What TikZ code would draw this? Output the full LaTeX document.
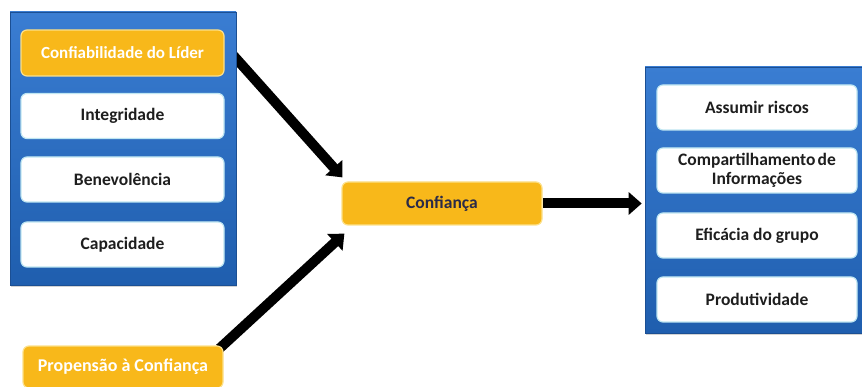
\documentclass[tikz,border=0pt]{standalone}
\usepackage{fontspec}
\setmainfont{Carlito}
\usetikzlibrary{arrows.meta,backgrounds,calc,shadows}
\definecolor{blueTop}{HTML}{3A7DD2}
\definecolor{blueBot}{HTML}{1F5EAE}
\definecolor{blueEdge}{HTML}{1B4F93}
\definecolor{orangeF}{HTML}{F8B81A}
\definecolor{orangeE}{HTML}{FCE08A}
\definecolor{whiteE}{HTML}{BFE6F2}
\definecolor{darkText}{HTML}{1E1E1E}
\definecolor{navyText}{HTML}{2A2A48}
\begin{document}
\begin{tikzpicture}[x=1pt,y=-1pt,
  font=\bfseries\fontsize{17.5}{18.5}\selectfont,
  panel/.style={rectangle, draw=blueEdge, line width=0.6pt, top color=blueTop, bottom color=blueBot, inner sep=0pt,
    drop shadow={opacity=0.35, shadow xshift=1pt, shadow yshift=-2pt}},
  whitebox/.style={rectangle, rounded corners=6pt, fill=white, draw=whiteE, line width=1.2pt,
    minimum width=#1, minimum height=45pt, text=darkText, align=center, inner sep=1pt},
  whitebox/.default=203pt,
  orangebox/.style={rectangle, rounded corners=6pt, fill=orangeF, draw=orangeE, line width=1.2pt,
    minimum width=200pt, minimum height=44pt, text=white, align=center, inner sep=1pt},
  bigarrow/.style={line width=10pt, -{Triangle[length=13pt,width=22pt]}}
]
\useasboundingbox (0,0) rectangle (862,387);

% left panel
\node[panel, minimum width=226pt, minimum height=273pt] (lpanel) at (123,148.5) {};
\node[orangebox, minimum width=203pt, minimum height=46pt, font=\bfseries\fontsize{17}{18}\selectfont] (lider) at (122.5,53) {Confiabilidade do Líder};
\node[whitebox] (integ) at (122.5,116) {Integridade};
\node[whitebox] (bene) at (122.5,179.5) {Benevolência};
\node[whitebox] (capa) at (122.5,244.5) {Capacidade};

% right panel
\node[panel, minimum width=232pt, minimum height=266pt] (rpanel) at (761,200) {};
\node[whitebox=200pt] (assumir) at (757,107.5) {Assumir riscos};
\node[whitebox=200pt] (compart) at (757,170.5) {Compartilhamento\hspace{0.12em}de\\Informações};
\node[whitebox=200pt] (efic) at (757,235.5) {Eficácia do grupo};
\node[whitebox=200pt] (produt) at (757,299.5) {Produtividade};

% centre and propensity
\node[orangebox, text=navyText, minimum height=43pt] (conf) at (442,203.5) {Confiança};
\node[orangebox, minimum height=42pt, font=\bfseries\fontsize{18}{20}\selectfont] (prop) at (123,367) {Propensão à Confiança};

\begin{scope}[on background layer]
  \draw[bigarrow] ($(lpanel.east |- lider.east)+(-6,-1)$) -- ($(conf.north west)+(1,-4)$);
  \draw[bigarrow] ($(prop.north east)+(-4,3)$) -- ($(conf.south west)+(3,8)$);
  \draw[bigarrow, shorten >=3pt] (conf.east) -- (conf.east -| rpanel.west);
\end{scope}
\end{tikzpicture}
\end{document}
